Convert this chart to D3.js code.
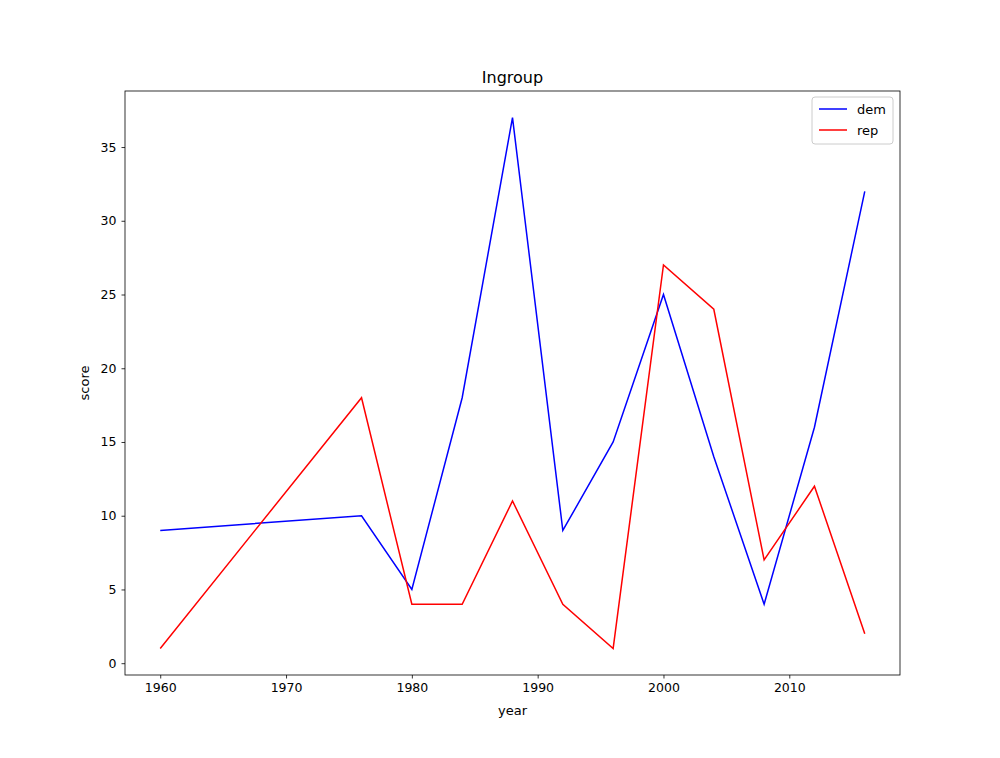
<!DOCTYPE html>
<html><head><meta charset="utf-8">
<script src="https://cdn.jsdelivr.net/npm/d3@7"></script>
<style>body{margin:0;background:#fff}text{font-family:"DejaVu Sans",sans-serif}</style>
</head><body><div id="chart"></div>
<script>
const years = [1960, 1976, 1980, 1984, 1988, 1992, 1996, 2000, 2004, 2008, 2012, 2016];
const dem = [9, 10, 5, 18, 37, 9, 15, 25, 14, 4, 16, 32];
const rep = [1, 18, 4, 4, 11, 4, 1, 27, 24, 7, 12, 2];
const xTicks = [1960, 1970, 1980, 1990, 2000, 2010];
const yTicks = [0, 5, 10, 15, 20, 25, 30, 35];

const MARGIN = { LEFT: 125, RIGHT: 100, TOP: 91, BOTTOM: 83 };
const W = 1000, H = 758;
const svg = d3.select("#chart").append("svg").attr("width", W).attr("height", H);

const x = d3.scaleLinear().domain([1957.2, 2018.8]).range([MARGIN.LEFT, W - MARGIN.RIGHT]);
const y = d3.scaleLinear().domain([-0.8, 38.8]).range([H - MARGIN.BOTTOM, MARGIN.TOP]);

const xAxis = svg.append("g").attr("transform", `translate(0,${H - MARGIN.BOTTOM})`)
  .call(d3.axisBottom(x).tickValues(xTicks).tickFormat(d3.format("d")).tickSizeOuter(0).tickSize(3.5).tickPadding(5));
const yAxis = svg.append("g").attr("transform", `translate(${MARGIN.LEFT},0)`)
  .call(d3.axisLeft(y).tickValues(yTicks).tickSizeOuter(0).tickSize(3.5).tickPadding(5));
[xAxis, yAxis].forEach(a => {
  a.select(".domain").remove();
  a.selectAll("text").attr("font-size", 12.5).attr("font-family", "DejaVu Sans").attr("fill", "#000");
  a.selectAll("line").attr("stroke", "#000").attr("stroke-width", 0.8);
});

svg.append("rect").attr("x", MARGIN.LEFT).attr("y", MARGIN.TOP)
  .attr("width", W - MARGIN.LEFT - MARGIN.RIGHT).attr("height", H - MARGIN.TOP - MARGIN.BOTTOM)
  .attr("fill", "none").attr("stroke", "#000").attr("stroke-width", 0.8);

const line = d3.line().x(d => x(d[0])).y(d => y(d[1]));
[[dem, "blue"], [rep, "red"]].forEach(([s, c]) => {
  svg.append("path").datum(years.map((yr, i) => [yr, s[i]]))
    .attr("d", line).attr("fill", "none").attr("stroke", c).attr("stroke-width", 1.5);
});

svg.append("text").attr("x", (MARGIN.LEFT + W - MARGIN.RIGHT) / 2).attr("y", MARGIN.TOP - 8)
  .attr("text-anchor", "middle").attr("font-size", 16).text("Ingroup");
svg.append("text").attr("x", (MARGIN.LEFT + W - MARGIN.RIGHT) / 2).attr("y", 715)
  .attr("text-anchor", "middle").attr("font-size", 13).text("year");
svg.append("text").attr("transform", `translate(89,${(MARGIN.TOP + H - MARGIN.BOTTOM) / 2}) rotate(-90)`)
  .attr("text-anchor", "middle").attr("font-size", 13).text("score");

const lg = svg.append("g").attr("transform", "translate(812,97)");
lg.append("rect").attr("width", 81).attr("height", 47).attr("rx", 3)
  .attr("fill", "#fff").attr("fill-opacity", 0.8).attr("stroke", "#ccc");
[["dem", "blue"], ["rep", "red"]].forEach(([n, c], i) => {
  lg.append("line").attr("x1", 7).attr("x2", 35).attr("y1", 12 + i * 21).attr("y2", 12 + i * 21)
    .attr("stroke", c).attr("stroke-width", 1.5);
  lg.append("text").attr("x", 45).attr("y", 16.5 + i * 21).attr("font-size", 13).text(n);
});
</script></body></html>
